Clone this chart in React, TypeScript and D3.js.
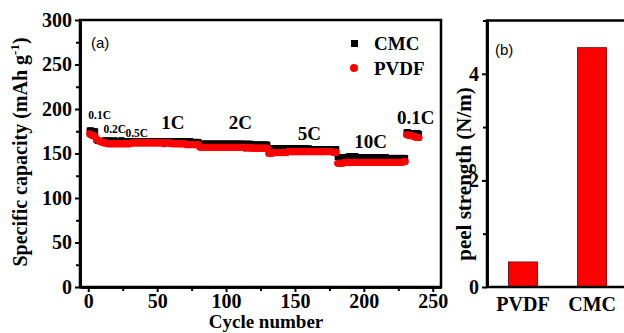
import React, { useRef, useEffect } from 'react';
import * as d3 from 'd3';

// rate segments
const rateLabels = ['0.1C', '0.2C', '0.5C', '1C', '2C', '5C', '10C', '0.1C'];

// specific capacity per cycle, cycle n = index + 1
const cmcCapacity = [
  176, 176, 175, 175, 175,
  165, 164, 164, 164, 163,
  164, 165, 164, 164, 165, 164, 164, 164, 165, 164,
  164, 164, 164, 165, 164, 164, 164, 164, 164, 164,
  164, 164, 164, 164, 164, 164, 164, 164, 164, 164,
  164, 164, 164, 164, 164, 164, 164, 164, 164, 164,
  164, 164, 164, 164, 164, 164, 164, 163, 164, 164,
  164, 164, 164, 164, 163, 164, 164, 164, 164, 163,
  164, 163, 163, 164, 163, 163, 163, 163, 163, 163,
  161, 161, 161, 161, 161, 161, 161, 161, 161, 161,
  161, 161, 161, 161, 161, 161, 161, 161, 161, 161,
  161, 161, 161, 161, 161, 161, 161, 161, 161, 161,
  161, 161, 161, 160, 161, 161, 160, 161, 160, 160,
  160, 160, 160, 160, 160, 160, 160, 160, 160, 160,
  156, 156, 156, 156, 156, 156, 156, 156, 156, 156,
  156, 156, 156, 156, 156, 156, 156, 156, 156, 156,
  156, 156, 156, 156, 156, 155, 156, 156, 155, 156,
  155, 155, 155, 155, 155, 155, 155, 155, 155, 155,
  155, 155, 155, 155, 155, 155, 155, 155, 155, 155,
  146, 146, 145, 145, 145, 146, 146, 146, 147, 147,
  147, 147, 147, 147, 146, 146, 146, 146, 146, 146,
  146, 146, 146, 146, 146, 146, 146, 146, 146, 146,
  146, 145, 146, 146, 145, 146, 145, 145, 145, 145,
  145, 145, 145, 145, 145, 145, 145, 145, 145, 145,
  174, 174, 173, 173, 173, 173, 173, 173, 173, 172,
];

const pvdfCapacity = [
  172, 171, 170, 170, 169,
  166, 165, 164, 163, 163,
  162, 162, 162, 161, 161, 161, 161, 161, 161, 161,
  161, 161, 161, 161, 161, 161, 161, 161, 161, 161,
  162, 162, 162, 162, 162, 162, 162, 162, 162, 162,
  162, 162, 162, 162, 162, 162, 162, 162, 162, 162,
  162, 162, 162, 162, 161, 162, 162, 162, 162, 161,
  162, 161, 161, 161, 161, 161, 161, 161, 161, 161,
  160, 160, 160, 160, 160, 160, 160, 160, 160, 160,
  157, 157, 157, 157, 157, 157, 157, 157, 157, 157,
  157, 157, 157, 157, 157, 157, 157, 157, 157, 157,
  157, 157, 157, 157, 157, 157, 157, 157, 157, 157,
  157, 157, 157, 156, 157, 157, 156, 157, 156, 156,
  156, 156, 156, 156, 156, 156, 156, 156, 156, 156,
  150, 150, 150, 151, 151, 151, 151, 151, 151, 151,
  151, 151, 151, 151, 152, 152, 152, 152, 152, 152,
  152, 152, 152, 152, 152, 152, 152, 152, 152, 152,
  152, 152, 152, 152, 152, 152, 152, 152, 152, 152,
  152, 152, 152, 152, 152, 152, 152, 151, 151, 151,
  139, 139, 139, 139, 139, 140, 140, 140, 140, 140,
  140, 140, 140, 140, 140, 140, 140, 140, 140, 140,
  140, 140, 140, 140, 140, 140, 140, 140, 140, 140,
  140, 140, 140, 140, 140, 140, 140, 140, 140, 140,
  140, 140, 140, 140, 140, 140, 140, 140, 141, 141,
  171, 171, 170, 170, 170, 169, 169, 168, 168, 168,
];

// where each rate label sits, in data units (cycle, capacity)
const rateLabelCycle = [0, 11, 27, 53, 102, 152, 193, 224];
const rateLabelCap = [189, 173, 168, 177, 177, 165, 156, 183];

const binders = ['PVDF', 'CMC'];
const peelStrength = [0.47, 4.49];

const serif = '"Liberation Serif", "Times New Roman", serif';
const sans = '"Liberation Sans", Arial, sans-serif';

const W = 624;
const H = 333;

const App: React.FC = () => {
  const svgRef = useRef<SVGSVGElement>(null);

  useEffect(() => {
    const svg = d3.select(svgRef.current);
    svg.selectAll('*').remove();

    // ---------- panel (a) ----------
    const x = d3.scaleLinear().domain([-6, 256]).range([80, 441]);
    const y = d3.scaleLinear().domain([0, 300]).range([287, 20]);

    const a = svg.append('g');

    // frame
    a.append('rect')
      .attr('x', x.range()[0])
      .attr('y', y.range()[1])
      .attr('width', x.range()[1] - x.range()[0])
      .attr('height', y.range()[0] - y.range()[1])
      .attr('fill', 'none')
      .attr('stroke', '#000')
      .attr('stroke-width', 2.5);

    const cycles = cmcCapacity.map((_, i) => i + 1);

    // CMC squares
    a.selectAll('.cmc')
      .data(cycles)
      .enter()
      .append('rect')
      .attr('x', (d) => x(d) - 3)
      .attr('y', (d, i) => y(cmcCapacity[i]) - 3)
      .attr('width', 6)
      .attr('height', 6)
      .attr('fill', '#000');

    // PVDF circles
    a.selectAll('.pvdf')
      .data(cycles)
      .enter()
      .append('circle')
      .attr('cx', (d) => x(d))
      .attr('cy', (d, i) => y(pvdfCapacity[i]))
      .attr('r', 3.6)
      .attr('fill', '#ff0000');

    // x axis
    const xAxis = a.append('g')
      .attr('transform', `translate(0, ${y.range()[0]})`)
      .call(d3.axisBottom(x).tickValues([0, 50, 100, 150, 200, 250]).tickSize(5).tickPadding(3).tickSizeOuter(0));
    a.append('g')
      .attr('transform', `translate(0, ${y.range()[0]})`)
      .call(d3.axisBottom(x).tickValues([25, 75, 125, 175, 225]).tickSize(4).tickFormat(() => '').tickSizeOuter(0));

    // y axis
    a.append('g')
      .attr('transform', `translate(${x.range()[0]}, 0)`)
      .call(d3.axisLeft(y).tickValues([0, 50, 100, 150, 200, 250, 300]).tickSize(5).tickPadding(3).tickSizeOuter(0));
    a.append('g')
      .attr('transform', `translate(${x.range()[0]}, 0)`)
      .call(d3.axisLeft(y).tickValues([25, 75, 125, 175, 225, 275]).tickSize(4).tickFormat(() => '').tickSizeOuter(0));

    xAxis.selectAll('text').attr('dy', '0.66em');

    // rate labels
    rateLabels.forEach((lbl, i) => {
      const small = i < 3;
      a.append('text')
        .attr('x', x(rateLabelCycle[i]))
        .attr('y', y(rateLabelCap[i]))
        .attr('font-family', serif)
        .attr('font-weight', 'bold')
        .attr('font-size', small ? 11.5 : 19)
        .attr('fill', '#000')
        .text(lbl);
    });

    // legend
    a.append('rect').attr('x', 351).attr('y', 40).attr('width', 7).attr('height', 7).attr('fill', '#000');
    a.append('circle').attr('cx', 354).attr('cy', 68).attr('r', 4).attr('fill', '#ff0000');
    a.append('text').attr('x', 374).attr('y', 50)
      .attr('font-family', serif).attr('font-weight', 'bold').attr('font-size', 19).text('CMC');
    a.append('text').attr('x', 374).attr('y', 75)
      .attr('font-family', serif).attr('font-weight', 'bold').attr('font-size', 19).text('PVDF');

    a.append('text').attr('x', 91).attr('y', 48)
      .attr('font-family', sans).attr('font-size', 15).text('(a)');

    // axis titles
    const yTitle = a.append('text')
      .attr('transform', 'translate(27, 152) rotate(-90)')
      .attr('text-anchor', 'middle')
      .attr('font-family', serif)
      .attr('font-weight', 'bold')
      .attr('font-size', 20);
    yTitle.append('tspan').text('Specific capacity (mAh g');
    yTitle.append('tspan').attr('dy', -8).attr('font-size', 13).text('-1');
    yTitle.append('tspan').attr('dy', 8).text(')');

    a.append('text')
      .attr('x', 266)
      .attr('y', 328)
      .attr('text-anchor', 'middle')
      .attr('font-family', serif)
      .attr('font-weight', 'bold')
      .attr('font-size', 19)
      .text('Cycle number');

    // ---------- panel (b) ----------
    const xb = d3.scaleBand<string>().domain(binders).range([487, 628]).paddingInner(0.58).paddingOuter(0.31);
    const yb = d3.scaleLinear().domain([0, 5]).range([287, 20.5]);
    const b = svg.append('g');

    b.selectAll('.bar')
      .data(binders)
      .enter()
      .append('rect')
      .attr('x', (d) => xb(d) as number)
      .attr('y', (d, i) => yb(peelStrength[i]))
      .attr('width', xb.bandwidth())
      .attr('height', (d, i) => yb(0) - yb(peelStrength[i]))
      .attr('fill', '#ff0000')
      .attr('stroke', '#600')
      .attr('stroke-width', 0.8);

    b.append('path')
      .attr('d', `M${W + 5},${yb.range()[1]}H487V${yb.range()[0]}H${W + 5}`)
      .attr('fill', 'none')
      .attr('stroke', '#000')
      .attr('stroke-width', 2.5);

    b.append('g')
      .attr('transform', `translate(487, 0)`)
      .call(d3.axisLeft(yb).tickValues([0, 2, 4]).tickSize(5).tickPadding(3).tickFormat(d3.format('d')).tickSizeOuter(0));
    b.append('g')
      .attr('transform', `translate(487, 0)`)
      .call(d3.axisLeft(yb).tickValues([1, 3, 5]).tickSize(4).tickFormat(() => '').tickSizeOuter(0));
    b.append('g')
      .attr('transform', `translate(0, 287)`)
      .call(d3.axisBottom(xb).tickSize(0).tickPadding(10).tickSizeOuter(0))
      .call((g) => g.select('.domain').remove())
      .selectAll('text')
      .attr('dy', '0.72em');

    b.append('text')
      .attr('transform', 'translate(471, 174) rotate(-90)')
      .attr('text-anchor', 'middle')
      .attr('font-family', serif)
      .attr('font-weight', 'bold')
      .attr('font-size', 21)
      .text('peel strength (N/m)');

    b.append('text').attr('x', 495).attr('y', 55)
      .attr('font-family', sans).attr('font-size', 15).text('(b)');

    // shared axis styling
    svg.selectAll('.domain').attr('stroke', '#000').attr('stroke-width', 2.5);
    svg.selectAll('.tick line').attr('stroke', '#000').attr('stroke-width', 2);
    svg.selectAll('.tick text')
      .attr('fill', '#000')
      .style('font-family', serif)
      .style('font-weight', 'bold')
      .style('font-size', '20px');
  }, []);

  return (
    <svg
      ref={svgRef}
      width={W}
      height={H}
      viewBox={`0 0 ${W} ${H}`}
      style={{ position: 'absolute', left: 0, top: 0, background: '#fff' }}
    />
  );
};

export default App;
